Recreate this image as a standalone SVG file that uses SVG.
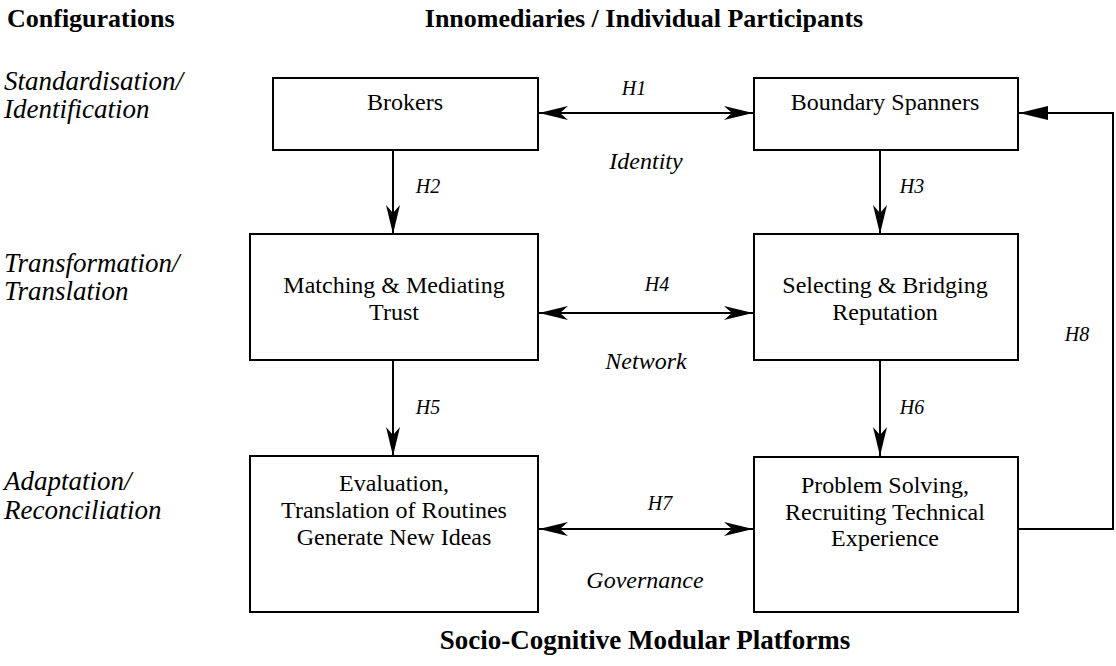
<svg xmlns="http://www.w3.org/2000/svg" width="1116" height="666" viewBox="0 0 1116 666">
  <style>
    text { font-family: "Liberation Serif", "Times New Roman", serif; fill: #000; }
    .hdr { font-size: 26px; font-weight: bold; }
    .cfg { font-size: 27px; font-style: italic; }
    .box { fill: #fff; stroke: #000; stroke-width: 2; }
    .lbl { font-size: 24px; text-anchor: middle; }
    .h { font-size: 20px; font-style: italic; text-anchor: middle; }
    .ctx { font-size: 24px; font-style: italic; text-anchor: middle; }
    .conn { fill: none; stroke: #000; stroke-width: 2; }
  </style>
  <defs>
    <marker id="barb" markerUnits="userSpaceOnUse" markerWidth="32" markerHeight="18" viewBox="-30 -9 32 18" refX="0" refY="0" orient="auto-start-reverse">
      <path d="M0,0 L-29,-7 L-21,0 L-29,7 Z" fill="#000"/>
    </marker>
    <marker id="tri" markerUnits="userSpaceOnUse" markerWidth="32" markerHeight="18" viewBox="-30 -9 32 18" refX="0" refY="0" orient="auto">
      <path d="M0,0 L-29,-7 L-29,7 Z" fill="#000"/>
    </marker>
  </defs>
  <rect width="1116" height="666" fill="#fff"/>

  <!-- headings -->
  <text class="hdr" x="7" y="27">Configurations</text>
  <text class="hdr" x="644" y="27" text-anchor="middle">Innomediaries / Individual Participants</text>
  <text class="hdr" x="645" y="649" text-anchor="middle" style="font-size:27px">Socio-Cognitive Modular Platforms</text>

  <!-- configuration levels -->
  <g id="levels">
    <text class="cfg" x="4" y="90">Standardisation/</text>
    <text class="cfg" x="4" y="118">Identification</text>
    <text class="cfg" x="4" y="272">Transformation/</text>
    <text class="cfg" x="4" y="300">Translation</text>
    <text class="cfg" x="4" y="490">Adaptation/</text>
    <text class="cfg" x="4" y="519">Reconciliation</text>
  </g>

  <!-- connectors -->
  <g id="connectors">
    <line class="conn" x1="539" y1="113" x2="753" y2="113" marker-start="url(#barb)" marker-end="url(#barb)"/>
    <line class="conn" x1="539" y1="313" x2="753" y2="313" marker-start="url(#barb)" marker-end="url(#barb)"/>
    <line class="conn" x1="539" y1="529" x2="753" y2="529" marker-start="url(#barb)" marker-end="url(#barb)"/>
    <line class="conn" x1="393" y1="151" x2="393" y2="234" marker-end="url(#barb)"/>
    <line class="conn" x1="880" y1="151" x2="880" y2="234" marker-end="url(#barb)"/>
    <line class="conn" x1="393" y1="361" x2="393" y2="456" marker-end="url(#barb)"/>
    <line class="conn" x1="880" y1="361" x2="880" y2="456" marker-end="url(#barb)"/>
    <polyline class="conn" points="1018,529 1113,529 1113,113 1019,113" marker-end="url(#tri)"/>
    <text class="h" x="634" y="95">H1</text>
    <text class="ctx" x="646" y="169">Identity</text>
    <text class="h" x="428" y="193">H2</text>
    <text class="h" x="912" y="193">H3</text>
    <text class="h" x="657" y="291">H4</text>
    <text class="ctx" x="646" y="369">Network</text>
    <text class="h" x="428" y="414">H5</text>
    <text class="h" x="912" y="414">H6</text>
    <text class="h" x="660" y="510">H7</text>
    <text class="ctx" x="645" y="588">Governance</text>
    <text class="h" x="1077" y="341">H8</text>
  </g>

  <g id="brokers">
    <rect class="box" x="273" y="78" width="265" height="72"/>
    <text class="lbl" x="405" y="110">Brokers</text>
  </g>
  <g id="boundary-spanners">
    <rect class="box" x="754" y="78" width="264" height="72"/>
    <text class="lbl" x="885" y="110">Boundary Spanners</text>
  </g>
  <g id="matching">
    <rect class="box" x="250" y="234" width="288" height="126"/>
    <text class="lbl" x="394" y="293">Matching &amp; Mediating</text>
    <text class="lbl" x="394" y="320">Trust</text>
  </g>
  <g id="selecting">
    <rect class="box" x="754" y="234" width="264" height="126"/>
    <text class="lbl" x="885" y="293">Selecting &amp; Bridging</text>
    <text class="lbl" x="885" y="320">Reputation</text>
  </g>
  <g id="evaluation">
    <rect class="box" x="250" y="456" width="288" height="156"/>
    <text class="lbl" x="394" y="491">Evaluation,</text>
    <text class="lbl" x="394" y="518">Translation of Routines</text>
    <text class="lbl" x="394" y="545">Generate New Ideas</text>
  </g>
  <g id="problem-solving">
    <rect class="box" x="754" y="457" width="264" height="155"/>
    <text class="lbl" x="885" y="493">Problem Solving,</text>
    <text class="lbl" x="885" y="520">Recruiting Technical</text>
    <text class="lbl" x="885" y="546">Experience</text>
  </g>
</svg>
